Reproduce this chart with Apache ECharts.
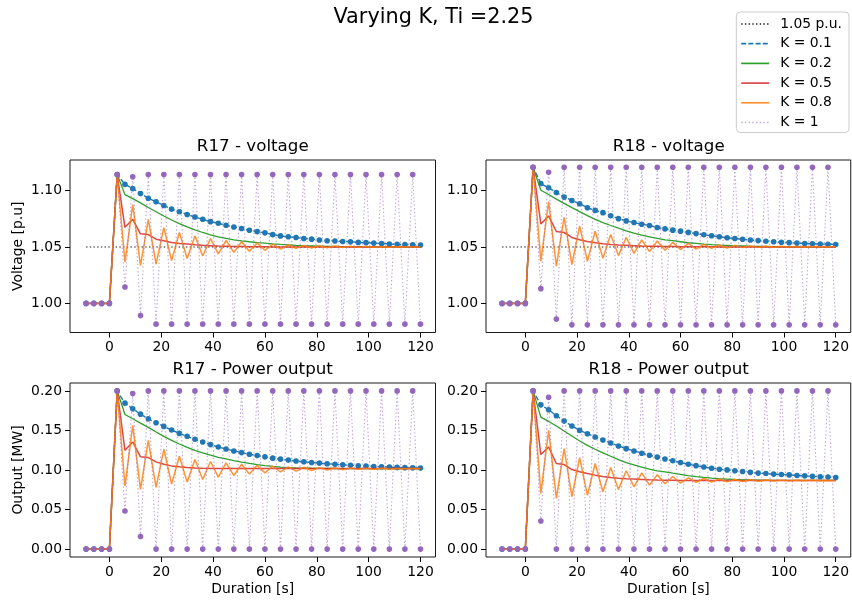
<!DOCTYPE html>
<html><head><meta charset="utf-8">
<script src="https://cdn.jsdelivr.net/npm/echarts@6/dist/echarts.min.js"></script>
<style>html,body{margin:0;padding:0;background:#fff}#c{width:852px;height:603px}</style>
</head><body><div id="c"></div>
<script>
// ---------- data ----------
const durations = [-9,-6,-3,0,3,6,9,12,15,18,21,24,27,30,33,36,39,42,45,48,51,54,57,60,63,66,69,72,75,78,81,84,87,90,93,96,99,102,105,108,111,114,117,120];
const refX = [-9, 120];
const refV = [1.05, 1.05];
const xTickValues = [0,20,40,60,80,100,120];
const voltTickValues = [1.00,1.05,1.10];
const powerTickValues = [0,0.05,0.10,0.15,0.20];
const seriesNames = ['1.05 p.u.','K = 0.1','K = 0.2','K = 0.5','K = 0.8','K = 1'];
const panelTitles = ['R17 - voltage','R18 - voltage','R17 - Power output','R18 - Power output'];

// R17 voltage
const r17V_k01 = [1,1,1,1,1.1143,1.1056,1.1018,1.0974,1.0933,1.0901,1.0868,1.0836,1.0813,1.0789,1.0766,1.0746,1.0725,1.0711,1.0693,1.0678,1.0664,1.0649,1.0637,1.0626,1.0610,1.0599,1.0591,1.0585,1.0576,1.0570,1.0562,1.0556,1.0553,1.0549,1.0546,1.0541,1.0539,1.0535,1.0532,1.0527,1.0524,1.0522,1.0520,1.0518];
const r17V_k02 = [1,1,1,1,1.1143,1.0965,1.0930,1.0892,1.0851,1.0813,1.0775,1.0740,1.0708,1.0678,1.0652,1.0629,1.0608,1.0591,1.0576,1.0564,1.0555,1.0547,1.0540,1.0534,1.0528,1.0523,1.0519,1.0515,1.0512,1.0510,1.0508,1.0506,1.0505,1.0504,1.0503,1.0502,1.0502,1.0501,1.0501,1.0501,1.0500,1.0500,1.0500,1.0500];
const r17V_k05 = [1,1,1,1,1.1143,1.0675,1.0746,1.0617,1.0611,1.0570,1.0556,1.0541,1.0532,1.0526,1.0520,1.0515,1.0512,1.0509,1.0507,1.0505,1.0504,1.0503,1.0502,1.0502,1.0501,1.0501,1.0501,1.0500,1.0500,1.0500,1.0500,1.0500,1.0500,1.0500,1.0500,1.0500,1.0500,1.0500,1.0500,1.0500,1.0500,1.0500,1.0500,1.0500];
const r17V_k08 = [1,1,1,1,1.1143,1.0365,1.0877,1.0336,1.0746,1.0348,1.0673,1.0380,1.0629,1.0398,1.0599,1.0421,1.0576,1.0439,1.0558,1.0453,1.0547,1.0462,1.0535,1.0471,1.0526,1.0482,1.0518,1.0488,1.0515,1.0491,1.0512,1.0494,1.0509,1.0496,1.0506,1.0497,1.0504,1.0498,1.0503,1.0499,1.0502,1.0500,1.0501,1.0500];
const r17V_k1 = [1,1,1,1,1.1143,1.0146,1.1123,0.9892,1.1143,0.9816,1.1143,0.9816,1.1143,0.9816,1.1143,0.9816,1.1143,0.9816,1.1143,0.9816,1.1143,0.9816,1.1143,0.9816,1.1143,0.9816,1.1143,0.9816,1.1143,0.9816,1.1143,0.9816,1.1143,0.9816,1.1143,0.9816,1.1143,0.9816,1.1143,0.9816,1.1143,0.9816,1.1143,0.9816];

// R18 voltage
const r18V_k01 = [1,1,1,1,1.1208,1.1063,1.1025,1.0984,1.0943,1.0913,1.0884,1.0849,1.0825,1.0805,1.0778,1.0752,1.0732,1.0717,1.0702,1.0691,1.0673,1.0661,1.0650,1.0641,1.0630,1.0619,1.0609,1.0600,1.0591,1.0583,1.0576,1.0569,1.0563,1.0557,1.0552,1.0547,1.0543,1.0539,1.0535,1.0532,1.0529,1.0527,1.0525,1.0523];
const r18V_k02 = [1,1,1,1,1.1208,1.1004,1.0966,1.0925,1.0887,1.0849,1.0814,1.0779,1.0746,1.0717,1.0691,1.0667,1.0644,1.0623,1.0606,1.0591,1.0576,1.0564,1.0556,1.0547,1.0538,1.0532,1.0526,1.0521,1.0517,1.0514,1.0511,1.0509,1.0507,1.0506,1.0505,1.0504,1.0503,1.0502,1.0502,1.0502,1.0501,1.0501,1.0501,1.0501];
const r18V_k05 = [1,1,1,1,1.1208,1.0705,1.0776,1.0638,1.0629,1.0585,1.0564,1.0550,1.0538,1.0529,1.0523,1.0518,1.0515,1.0512,1.0509,1.0507,1.0506,1.0505,1.0504,1.0503,1.0503,1.0502,1.0502,1.0502,1.0501,1.0501,1.0501,1.0501,1.0501,1.0501,1.0501,1.0501,1.0501,1.0501,1.0501,1.0501,1.0501,1.0501,1.0501,1.0501];
const r18V_k08 = [1,1,1,1,1.1208,1.0374,1.0902,1.0330,1.0764,1.0345,1.0688,1.0374,1.0641,1.0400,1.0611,1.0424,1.0585,1.0444,1.0564,1.0459,1.0553,1.0471,1.0541,1.0477,1.0532,1.0482,1.0524,1.0488,1.0518,1.0492,1.0513,1.0495,1.0510,1.0497,1.0508,1.0499,1.0506,1.0500,1.0505,1.0501,1.0504,1.0502,1.0503,1.0502];
const r18V_k1 = [1,1,1,1,1.1208,1.0131,1.1163,0.9861,1.1208,0.9810,1.1208,0.9810,1.1208,0.9810,1.1208,0.9810,1.1208,0.9810,1.1208,0.9810,1.1208,0.9810,1.1208,0.9810,1.1208,0.9810,1.1208,0.9810,1.1208,0.9810,1.1208,0.9810,1.1208,0.9810,1.1208,0.9810,1.1208,0.9810,1.1208,0.9810,1.1208,0.9810,1.1208,0.9810];

// R17 power
const r17P_k01 = [0,0,0,0,0.2000,0.1845,0.1774,0.1706,0.1648,0.1597,0.1551,0.1505,0.1463,0.1426,0.1388,0.1354,0.1321,0.1291,0.1266,0.1241,0.1220,0.1199,0.1182,0.1166,0.1150,0.1137,0.1125,0.1114,0.1104,0.1095,0.1087,0.1079,0.1072,0.1066,0.1060,0.1054,0.1049,0.1045,0.1041,0.1037,0.1033,0.1030,0.1027,0.1024];
const r17P_k02 = [0,0,0,0,0.2000,0.1702,0.1648,0.1593,0.1539,0.1480,0.1426,0.1375,0.1329,0.1287,0.1249,0.1216,0.1187,0.1161,0.1140,0.1119,0.1100,0.1083,0.1068,0.1055,0.1045,0.1037,0.1031,0.1027,0.1024,0.1022,0.1021,0.1020,0.1019,0.1018,0.1018,0.1018,0.1018,0.1018,0.1018,0.1018,0.1018,0.1018,0.1018,0.1018];
const r17P_k05 = [0,0,0,0,0.2000,0.1249,0.1354,0.1166,0.1157,0.1103,0.1073,0.1052,0.1040,0.1031,0.1025,0.1022,0.1020,0.1019,0.1018,0.1018,0.1018,0.1018,0.1018,0.1018,0.1018,0.1018,0.1018,0.1018,0.1018,0.1018,0.1018,0.1018,0.1018,0.1018,0.1018,0.1018,0.1018,0.1018,0.1018,0.1018,0.1018,0.1018,0.1018,0.1018];
const r17P_k08 = [0,0,0,0,0.2000,0.0797,0.1564,0.0755,0.1375,0.0780,0.1262,0.0822,0.1174,0.0847,0.1132,0.0881,0.1107,0.0910,0.1090,0.0931,0.1073,0.0948,0.1061,0.0964,0.1050,0.0975,0.1040,0.0985,0.1034,0.0993,0.1030,0.0999,0.1027,0.1004,0.1024,0.1008,0.1022,0.1011,0.1021,0.1013,0.1020,0.1015,0.1019,0.1017];
const r17P_k1 = [0,0,0,0,0.2000,0.0482,0.1966,0.0159,0.2,0,0.2,0,0.2,0,0.2,0,0.2,0,0.2,0,0.2,0,0.2,0,0.2,0,0.2,0,0.2,0,0.2,0,0.2,0,0.2,0,0.2,0,0.2,0,0.2,0,0.2,0];

// R18 power
const r18P_k01 = [0,0,0,0,0.2000,0.1824,0.1761,0.1686,0.1618,0.1556,0.1501,0.1459,0.1417,0.1379,0.1342,0.1304,0.1270,0.1241,0.1212,0.1187,0.1163,0.1140,0.1117,0.1095,0.1072,0.1055,0.1038,0.1023,0.1010,0.1001,0.0991,0.0981,0.0970,0.0961,0.0955,0.0948,0.0943,0.0938,0.0931,0.0926,0.0919,0.0914,0.0911,0.0906];
const r18P_k02 = [0,0,0,0,0.2000,0.1669,0.1614,0.1556,0.1493,0.1430,0.1367,0.1312,0.1262,0.1216,0.1174,0.1132,0.1094,0.1065,0.1036,0.1010,0.0990,0.0975,0.0960,0.0946,0.0930,0.0917,0.0906,0.0897,0.0890,0.0885,0.0880,0.0876,0.0874,0.0872,0.0871,0.0870,0.0869,0.0868,0.0868,0.0868,0.0868,0.0868,0.0868,0.0868];
const r18P_k05 = [0,0,0,0,0.2000,0.1195,0.1291,0.1082,0.1069,0.1006,0.0977,0.0956,0.0935,0.0918,0.0906,0.0897,0.0889,0.0885,0.0881,0.0876,0.0872,0.0870,0.0869,0.0868,0.0867,0.0867,0.0867,0.0867,0.0867,0.0866,0.0866,0.0866,0.0866,0.0866,0.0866,0.0866,0.0866,0.0866,0.0866,0.0866,0.0866,0.0866,0.0866,0.0866];
const r18P_k08 = [0,0,0,0,0.2000,0.0704,0.1501,0.0642,0.1270,0.0662,0.1157,0.0679,0.1082,0.0725,0.1031,0.0755,0.0990,0.0788,0.0964,0.0809,0.0939,0.0826,0.0918,0.0834,0.0902,0.0843,0.0893,0.0848,0.0886,0.0851,0.0881,0.0855,0.0877,0.0858,0.0874,0.0860,0.0872,0.0862,0.0870,0.0863,0.0869,0.0864,0.0868,0.0865];
const r18P_k1 = [0,0,0,0,0.2000,0.0356,0.1920,0.0000,0.2,0,0.2,0,0.2,0,0.2,0,0.2,0,0.2,0,0.2,0,0.2,0,0.2,0,0.2,0,0.2,0,0.2,0,0.2,0,0.2,0,0.2,0,0.2,0,0.2,0,0.2,0];

// ---------- styling ----------
const FONT = 'DejaVu Sans';
const DOT = [1.4, 2.3];
const styles = {
  '1.05 p.u.': {color:'#000000', lineStyle:{width:1.1, type:DOT, opacity:0.9}, z:2},
  'K = 0.1': {color:'#1f77b4', lineStyle:{width:1.4, type:[5,2.2]}, symbol:'circle', symbolSize:5.6, z:3},
  'K = 0.2': {color:'#2ca02c', lineStyle:{width:1.3}, z:4},
  'K = 0.5': {color:'#d62728', lineStyle:{width:1.5, opacity:0.85}, z:5},
  'K = 0.8': {color:'#ff7f0e', lineStyle:{width:1.5, opacity:0.85}, z:6},
  'K = 1':   {color:'#9467bd', lineStyle:{width:1.1, type:DOT, opacity:0.6}, symbol:'circle', symbolSize:5.6, z:7}
};
function line(grid, name, xs, ys) {
  const s = styles[name];
  return {
    type:'line', name, xAxisIndex:grid, yAxisIndex:grid,
    data: xs.map((x,i)=>[x, ys[i]]),
    color: s.color,
    lineStyle: Object.assign({color:s.color, cap:'butt'}, s.lineStyle),
    symbol: s.symbol || 'none', symbolSize: s.symbolSize || 0,
    showSymbol: !!s.symbol, showAllSymbol: true,
    itemStyle: {color:s.color, borderWidth:0},
    emphasis:{disabled:true}, silent:true, animation:false, z:s.z
  };
}

const panels = [
  {x:durations, sets:[r17V_k01,r17V_k02,r17V_k05,r17V_k08,r17V_k1], ref:true},
  {x:durations, sets:[r18V_k01,r18V_k02,r18V_k05,r18V_k08,r18V_k1], ref:true},
  {x:durations, sets:[r17P_k01,r17P_k02,r17P_k05,r17P_k08,r17P_k1], ref:false},
  {x:durations, sets:[r18P_k01,r18P_k02,r18P_k05,r18P_k08,r18P_k1], ref:false}
];

const GL = [70, 486, 70, 486];
const GT = [160, 160, 383, 383];
const GW = 365.5;
const GH = [172.5, 172.5, 174, 174];

const grids = [], xAxes = [], yAxes = [], series = [], texts = [];
const tickFont = {fontFamily:FONT, fontSize:13.9, color:'#000'};
for (let g = 0; g < 4; g++) {
  grids.push({left:GL[g], top:GT[g], width:GW, height:GH[g], show:true, borderColor:'#1a1a1a', borderWidth:1, backgroundColor:'transparent', containLabel:false});
  const bottom = g >= 2;
  xAxes.push({
    type:'value', gridIndex:g, min:-15.2, max:125.8,
    axisLine:{show:false, onZero:false}, splitLine:{show:false},
    axisTick:{show:true, length:5, lineStyle:{color:'#000', width:1}, customValues:xTickValues},
    axisLabel:Object.assign({customValues:xTickValues, margin:8}, tickFont),
    name: bottom ? 'Duration [s]' : '', nameLocation:'middle', nameGap:25,
    nameTextStyle:{fontFamily:FONT, fontSize:13.9, color:'#000'}
  });
  const isV = g < 2;
  yAxes.push({
    type:'value', gridIndex:g,
    min: isV ? 0.9742 : -0.01, max: isV ? 1.1272 : 0.21,
    axisLine:{show:false, onZero:false}, splitLine:{show:false},
    axisTick:{show:true, length:5, lineStyle:{color:'#000', width:1}, customValues: isV ? voltTickValues : powerTickValues},
    axisLabel:Object.assign({customValues: isV ? voltTickValues : powerTickValues, margin:8, formatter:v=>Number(v).toFixed(2)}, tickFont),
    name: (g === 0) ? 'Voltage [p.u]' : (g === 2 ? 'Output [MW]' : ''),
    nameLocation:'middle', nameGap:45, nameRotate:90,
    nameTextStyle:{fontFamily:FONT, fontSize:13.9, color:'#000'}
  });
  const p = panels[g];
  if (p.ref) series.push(line(g, '1.05 p.u.', refX, refV));
  for (let k = 0; k < 5; k++) series.push(line(g, seriesNames[k+1], p.x, p.sets[k]));
  texts.push({type:'text', x: GL[g] + GW/2, y: GT[g] - 13, silent:true,
    style:{text:panelTitles[g], fontFamily:FONT, fontSize:16.7, fill:'#000', align:'center', verticalAlign:'middle', textAlign:'center', textVerticalAlign:'middle'}});
}
texts.push({type:'text', x:433.5, y:18, silent:true,
  style:{text:'Varying K, Ti =2.25', fontFamily:FONT, fontSize:20.8, fill:'#000', align:'center', verticalAlign:'middle', textAlign:'center', textVerticalAlign:'middle'}});

const chart = echarts.init(document.getElementById('c'), null, {renderer:'canvas'});
chart.setOption({
  animation:false,
  backgroundColor:'#ffffff',
  grid:grids, xAxis:xAxes, yAxis:yAxes, series:series,
  legend:{
    data:seriesNames, orient:'vertical', right:3, top:12,
    padding:[5,7,3,4], itemWidth:28, itemHeight:14, itemGap:5.7,
    backgroundColor:'rgba(255,255,255,0.8)', borderColor:'#cccccc', borderWidth:1, borderRadius:4,
    selectedMode:false, itemStyle:{opacity:0}, lineStyle:{width:1.7},
    textStyle:{fontFamily:FONT, fontSize:13.9, color:'#000', lineHeight:14, padding:[0,0,0,6]}
  },
  graphic:{elements:texts}
});
</script></body></html>
